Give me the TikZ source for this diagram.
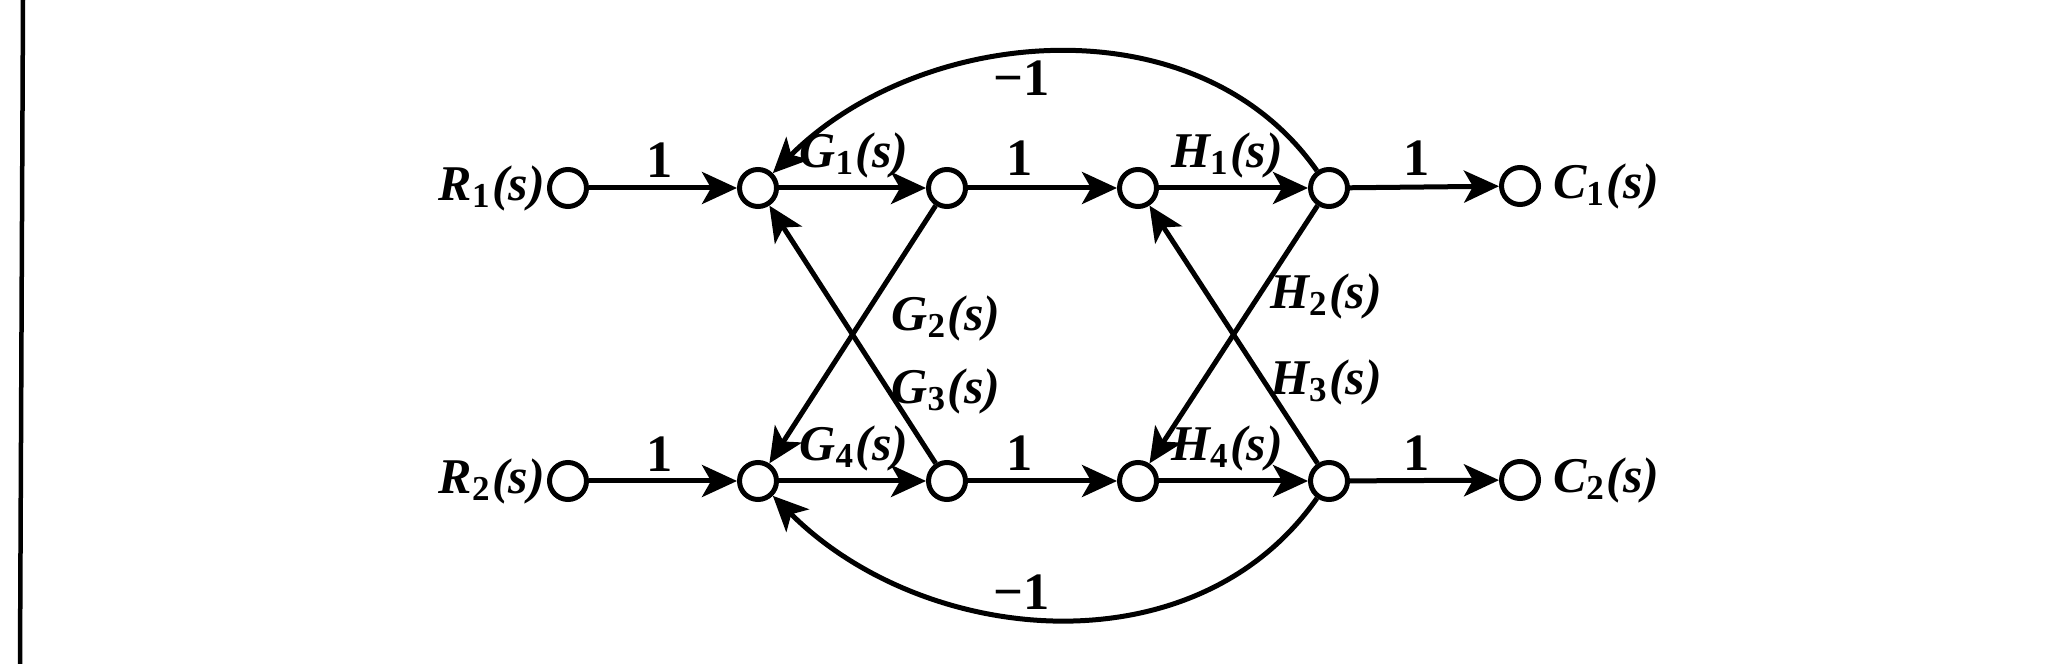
\documentclass[tikz,border=0pt]{standalone}
\usepackage{fontspec}
\setmainfont{Liberation Serif}
\usetikzlibrary{arrows.meta}
\newcommand\sglab[2]{#1\textsubscript{\upshape #2}(s)}
\begin{document}
\begin{tikzpicture}[x=0.2pt,y=-0.2pt,
  sn/.style={circle,draw,line width=1pt,minimum size=7.4pt,inner sep=0pt,fill=white},
  br/.style={line width=1pt,-{Stealth[length=7pt,width=6.4pt,inset=1.8pt]}},
  lbl/.style={font=\bfseries\itshape\fontsize{10}{12}\selectfont,inner sep=0pt},
  num/.style={font=\bfseries\fontsize{10.5}{12}\selectfont,inner sep=0pt}]
\useasboundingbox (0,0) rectangle (2063,664);
% page edge line
\draw[line width=0.9pt] (23,0) coordinate (e1) -- (20,664) coordinate (e2);
% nodes
\node[sn] (R1) at (568,188) {};
\node[sn] (n1) at (758,188) {};
\node[sn] (n2) at (947,188) {};
\node[sn] (n3) at (1138,188) {};
\node[sn] (n4) at (1329,188) {};
\node[sn] (C1) at (1520,186) {};
\node[sn] (R2) at (568,481) {};
\node[sn] (m1) at (758,481) {};
\node[sn] (m2) at (947,481) {};
\node[sn] (m3) at (1138,481) {};
\node[sn] (m4) at (1329,481) {};
\node[sn] (C2) at (1520,480) {};
% node names
\node[lbl,anchor=east] (tR1) at (546,188) {\sglab{R}{1}};
\node[lbl,anchor=east] (tR2) at (546,481) {\sglab{R}{2}};
\node[lbl,anchor=west] (tC1) at (1552,186) {\sglab{C}{1}};
\node[lbl,anchor=west] (tC2) at (1552,480) {\sglab{C}{2}};
% horizontal branches
\draw[br] (R1) -- (n1);
\draw[br] (n1) -- (n2);
\draw[br] (n2) -- (n3);
\draw[br] (n3) -- (n4);
\draw[br] (n4) -- (C1);
\draw[br] (R2) -- (m1);
\draw[br] (m1) -- (m2);
\draw[br] (m2) -- (m3);
\draw[br] (m3) -- (m4);
\draw[br] (m4) -- (C2);
% cross branches
\draw[br] (n2) -- (m1);
\draw[br] (m2) -- (n1);
\draw[br] (n4) -- (m3);
\draw[br] (m4) -- (n3);
% feedback arcs
\draw[br] (n4) to[out=125,in=45,looseness=0.98] (n1);
\draw[br] (m4) to[out=-125,in=-45,looseness=1.0] (m1);
% branch labels
\node[num] (l1) at (660,160) {1};
\node[lbl] (lG1) at (854,155) {\sglab{G}{1}};
\node[num] (l2) at (1020,158) {1};
\node[lbl] (lH1) at (1227,155) {\sglab{H}{1}};
\node[num] (l3) at (1417,158) {1};
\node[num] (lt) at (1022,78) {−1};
\node[lbl] (lG2) at (946,318) {\sglab{G}{2}};
\node[lbl] (lG3) at (946,391) {\sglab{G}{3}};
\node[lbl] (lH2) at (1326,296) {\sglab{H}{2}};
\node[lbl] (lH3) at (1326,382) {\sglab{H}{3}};
\node[num] (l4) at (660,454) {1};
\node[lbl] (lG4) at (854,448) {\sglab{G}{4}};
\node[num] (l5) at (1020,453) {1};
\node[lbl] (lH4) at (1227,448) {\sglab{H}{4}};
\node[num] (l6) at (1417,453) {1};
\node[num] (lb) at (1022,592) {−1};
\end{tikzpicture}
\end{document}
